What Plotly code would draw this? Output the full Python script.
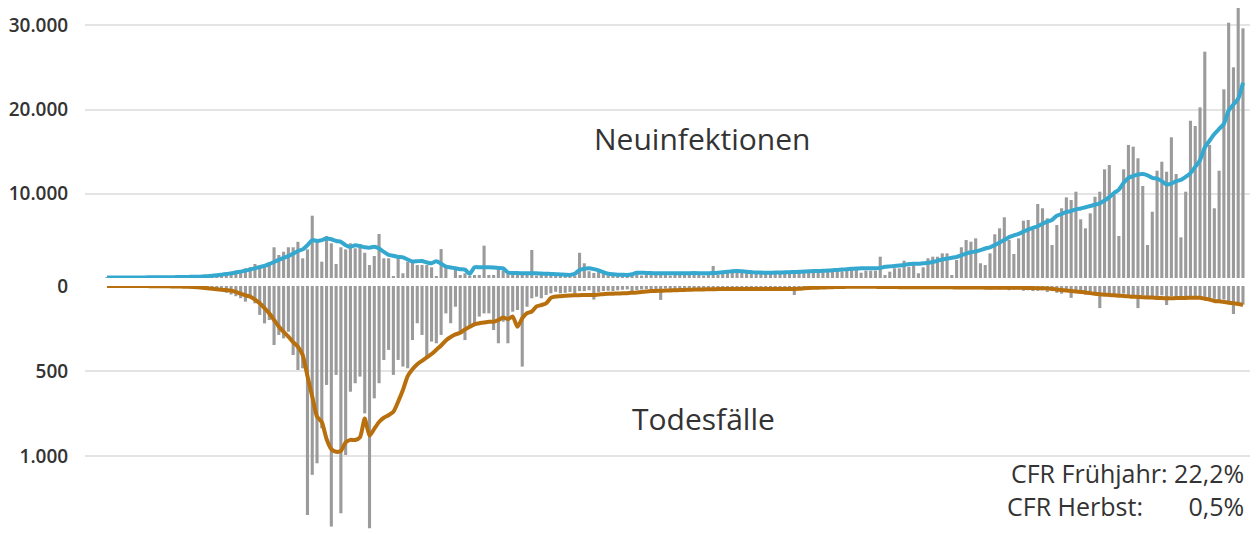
import plotly.graph_objects as go

# daily values, day 0 .. day 238
infections = [
    50, 60, 80, 100, 120, 100, 150, 120, 130, 150,
    160, 140, 170, 150, 160, 180, 150, 170, 200, 180,
    220, 200, 240, 360, 360, 560, 750, 870, 950, 1150,
    1300, 1660, 1340, 1540, 1900, 3650, 2730, 3120, 3650, 3650,
    4300, 2340, 3400, 7400, 4300, 1940, 4990, 4120, 1660, 3650,
    3400, 4120, 3530, 4040, 3000, 1540, 2610, 5230, 2340, 2340,
    150, 2340, 560, 1940, 1940, 1540, 1540, 1540, 1270, 150,
    3440, 1270, 0, 950, 360, 560, 150, 360, 360, 3840,
    360, 360, 1200, 900, 500, 600, 400, 700, 500, 3330,
    300, 500, 600, 400, 300, 500, 400, 200, 300, 3000,
    1750, 800, 600, 900, 500, 300, 400, 300, 200, 400,
    500, 600, 300, 500, 600, 400, 500, 600, 300, 500,
    600, 400, 500, 600, 500, 300, 600, 1430, 400, 600,
    700, 800, 900, 600, 800, 700, 500, 600, 700, 600,
    500, 700, 800, 600, 700, 800, 700, 600, 800, 900,
    700, 800, 900, 1000, 800, 900, 1100, 1000, 630, 870,
    870, 870, 2530, 360, 750, 1150, 1150, 2060, 1340, 1540,
    560, 1270, 2340, 2530, 2530, 2930, 2930, 360, 2140, 3650,
    4510, 4310, 4710, 1750, 1540, 2930, 5190, 5900, 7210, 4510,
    2850, 4710, 6810, 6890, 5780, 8790, 8280, 7090, 3920, 6290,
    8280, 9580, 9260, 10250, 6970, 5900, 7680, 9650, 10250, 12910,
    13420, 9860, 4990, 12910, 15800, 15600, 14220, 10930, 3920, 7870,
    12740, 13810, 12620, 16710, 12350, 4830, 10250, 18680, 18050, 20270,
    26880, 15800, 8280, 12740, 22410, 30320, 25020, 32420, 29650,
]

infections_avg = [
    50, 50, 50, 50, 60, 60, 60, 70, 70, 80,
    80, 90, 90, 100, 100, 110, 120, 130, 140, 150,
    180, 220, 270, 330, 400, 470, 550, 650, 760, 880,
    1000, 1150, 1300, 1450, 1650, 1900, 2150, 2400, 2600, 2900,
    3200, 3400, 3900, 4500, 4400, 4500, 4700, 4600, 4400, 4300,
    3900, 3700, 3900, 3800, 3650, 3600, 3700, 3500, 3100, 2750,
    2650, 2500, 2450, 2200, 1950, 2000, 2020, 1850, 1750, 2000,
    1700, 1350, 1250, 1150, 1050, 1000, 480, 1270, 1280, 1270,
    1270, 1250, 1200, 1150, 650, 600, 580, 570, 560, 560,
    550, 520, 500, 480, 450, 420, 400, 370, 500, 950,
    1100, 1150, 1050, 900, 700, 500, 440, 400, 380, 360,
    450, 630, 620, 600, 580, 570, 560, 560, 560, 560,
    560, 560, 570, 580, 570, 560, 560, 580, 620, 680,
    740, 800, 830, 800, 740, 700, 660, 640, 630, 630,
    640, 650, 670, 690, 710, 740, 770, 800, 820, 830,
    850, 880, 920, 960, 1000, 1050, 1100, 1130, 1150, 1150,
    1150, 1150, 1200, 1340, 1380, 1420, 1480, 1550, 1650, 1680,
    1700, 1750, 1800, 1900, 2050, 2200, 2300, 2400, 2500, 2700,
    2900, 3050, 3150, 3300, 3500, 3650, 3900, 4200, 4500, 4850,
    5050, 5250, 5500, 5750, 5950, 6150, 6450, 6700, 6900, 7400,
    7600, 7850, 7950, 8150, 8250, 8400, 8550, 8700, 8870, 9200,
    9600, 10100, 10500, 11300, 11900, 12100, 12300, 12350, 12200, 11900,
    11800, 11500, 11100, 11200, 11500, 11650, 12000, 12450, 13200, 14000,
    15500, 16300, 17100, 17700, 18300, 19900, 20600, 21300, 23200,
]

deaths = [
    0, 0, 0, 0, 0, 0, 0, 0, 1, 1,
    1, 2, 2, 3, 3, 4, 5, 6, 8, 10,
    12, 15, 20, 25, 30, 40, 50, 60, 72, 92,
    63, 102, 170, 220, 200, 347, 288, 308, 269, 406,
    494, 484, 1347, 1111, 1043, 837, 582, 1415, 523, 1337,
    994, 622, 572, 533, 749, 1425, 661, 572, 435, 376,
    523, 435, 474, 484, 318, 219, 288, 425, 327, 337,
    288, 161, 219, 122, 278, 318, 239, 219, 180, 161,
    161, 259, 337, 210, 337, 151, 141, 474, 122, 72,
    63, 72, 53, 43, 34, 43, 40, 35, 45, 30,
    30, 25, 80, 35, 30, 28, 30, 25, 22, 20,
    35, 25, 20, 18, 20, 22, 82, 15, 25, 20,
    18, 15, 12, 20, 15, 12, 10, 12, 15, 12,
    10, 15, 12, 10, 8, 12, 10, 8, 12, 10,
    8, 10, 12, 10, 53, 12, 8, 10, 6, 8,
    10, 8, 6, 10, 8, 6, 8, 6, 5, 8,
    6, 5, 8, 6, 10, 8, 6, 8, 10, 8,
    12, 10, 8, 12, 10, 14, 12, 10, 15, 12,
    14, 16, 12, 15, 18, 20, 15, 20, 18, 25,
    22, 20, 28, 25, 30, 28, 25, 35, 30, 40,
    45, 35, 70, 30, 45, 50, 40, 55, 130, 45,
    50, 60, 55, 45, 60, 70, 130, 55, 60, 65,
    70, 55, 112, 60, 65, 70, 75, 60, 70, 65,
    80, 70, 75, 85, 80, 90, 165, 100, 110,
]

deaths_avg = [
    0, 0, 0, 0, 0, 0, 0, 0, 0, 1,
    1, 1, 2, 2, 3, 3, 4, 5, 6, 8,
    10, 13, 16, 19, 22, 24, 26, 35, 45, 55,
    63, 80, 102, 130, 161, 200, 239, 270, 298, 330,
    357, 406, 530, 650, 768, 800, 900, 960, 975, 970,
    920, 905, 906, 890, 780, 880, 840, 800, 775, 760,
    740, 680, 612, 530, 490, 460, 440, 420, 400, 375,
    350, 320, 300, 285, 275, 255, 240, 225, 219, 215,
    210, 210, 200, 185, 195, 180, 240, 190, 160, 150,
    120, 112, 102, 70, 62, 60, 58, 56, 55, 54,
    53, 53, 53, 50, 48, 46, 45, 44, 43, 42,
    40, 38, 35, 32, 30, 29, 28, 27, 26, 25,
    24, 23, 22, 21, 20, 20, 19, 19, 18, 18,
    18, 18, 18, 18, 18, 18, 18, 18, 18, 18,
    18, 18, 18, 18, 17, 16, 14, 12, 11, 10,
    9, 8, 7, 6, 6, 5, 5, 4, 5, 5,
    5, 5, 6, 6, 6, 6, 7, 7, 7, 7,
    7, 8, 8, 8, 8, 8, 8, 8, 9, 9,
    9, 9, 9, 9, 10, 10, 10, 10, 10, 10,
    10, 11, 11, 12, 12, 13, 13, 14, 17, 20,
    24, 27, 29, 32, 35, 38, 42, 46, 49, 51,
    53, 55, 57, 59, 61, 63, 64, 66, 67, 68,
    70, 71, 72, 72, 71, 70, 70, 69, 69, 69,
    75, 80, 88, 90, 94, 98, 102, 106, 112,
]

n = len(infections)
assert n == len(infections_avg) == len(deaths) == len(deaths_avg), (
    len(infections), len(infections_avg), len(deaths), len(deaths_avg))
days = list(range(n))

inf_ticks = [10000, 20000, 30000]
inf_labels = ["10.000", "20.000", "30.000"]
death_ticks = [0, 500, 1000]
death_labels = ["0", "500", "1.000"]

BAR = "#9b9b9b"
BLUE = "#35a8cf"
BROWN = "#b8700e"
TXT = "#333333"
GRID = "#e4e4e4"
FONT = "Open Sans"

# the page puts the figure 8px in from the top left corner
OFF = 8
W, H = 1259 - OFF, 534 - OFF
left, right = 85 - OFF, 1250 - OFF          # plot area, figure px
px_day = 4.773
first_x = 107 - OFF                          # centre of day 0
inf_zero, px_10k = 278 - OFF, 84.2           # infections baseline, px per 10.000
death_zero, px_500 = 286 - OFF, 85.0         # deaths baseline, px per 500

x0 = -(first_x - left) / px_day
x1 = (n - 1) + (right - (first_x + (n - 1) * px_day)) / px_day

fig = go.Figure()
fig.add_trace(go.Bar(x=days, y=infections, marker_color=BAR, marker_line_width=0,
                     yaxis="y", showlegend=False))
fig.add_trace(go.Bar(x=days, y=deaths, marker_color=BAR, marker_line_width=0,
                     yaxis="y2", showlegend=False))
fig.add_trace(go.Scatter(x=days, y=infections_avg, mode="lines", yaxis="y",
                         line=dict(color=BLUE, width=4, shape="spline", smoothing=0.6),
                         showlegend=False))
fig.add_trace(go.Scatter(x=days, y=deaths_avg, mode="lines", yaxis="y2",
                         line=dict(color=BROWN, width=4, shape="spline", smoothing=0.6),
                         showlegend=False))

tickfont = dict(family=FONT, size=19, color=TXT, weight=600)
fig.update_layout(
    width=W, height=H,
    margin=dict(l=left, r=W - right, t=0, b=0),
    plot_bgcolor="white", paper_bgcolor="white",
    bargap=0.35,
    xaxis=dict(range=[x0, x1], showticklabels=False, showgrid=False, zeroline=False,
               automargin=False),
    yaxis=dict(domain=[1 - inf_zero / H, 1], range=[0, inf_zero / px_10k * 10000],
               tickvals=inf_ticks, ticktext=inf_labels,
               showgrid=True, gridcolor=GRID, gridwidth=2, zeroline=False,
               ticks="outside", ticklen=12, tickcolor="rgba(0,0,0,0)",
               tickfont=tickfont, automargin=False),
    yaxis2=dict(domain=[0, 1 - death_zero / H], range=[(H - death_zero) / px_500 * 500, 0],
                tickvals=death_ticks, ticktext=death_labels,
                showgrid=True, gridcolor=GRID, gridwidth=2, zeroline=False,
                ticks="outside", ticklen=12, tickcolor="rgba(0,0,0,0)",
                tickfont=tickfont, automargin=False),
    font=dict(family=FONT, color=TXT),
)


def note(text, x, y, size, anchor="center", align="center"):
    # x, y given in page pixels
    fig.add_annotation(text=text,
                       x=(x - OFF - left) / (right - left), y=1 - (y - OFF) / H,
                       xref="paper", yref="paper", align=align,
                       xanchor=anchor, yanchor="middle", showarrow=False,
                       font=dict(family=FONT, size=size, color=TXT))


note("Neuinfektionen", 702, 138, 30)
note("Todesfälle", 703, 418, 30)
pad = "\u00a0" * 7
note("CFR Frühjahr: 22,2%<br>CFR Herbst:" + pad + "0,5%", 1246, 489, 25, "right", "right")

fig.write_html("out.html")
